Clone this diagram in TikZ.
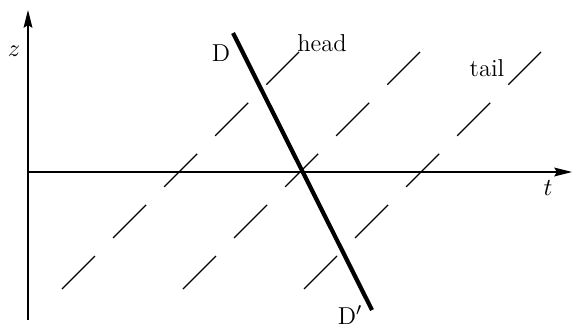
\documentclass[tikz,border=0pt]{standalone}
\usetikzlibrary{arrows.meta}
\begin{document}
\begin{tikzpicture}[x=0.45pt, y=0.45pt, font=\fontsize{11}{13}\selectfont,
    eje/.style={line width=0.6pt, -{Stealth[length=8pt, width=4pt, inset=1.2pt]}},
    frente/.style={line width=1.9pt},
    linea/.style={line width=0.6pt, dash pattern=on 21pt off 11.5pt}]

    \useasboundingbox (0,0) rectangle (573,327);

    % ejes
    \coordinate (O) at (28,155);
    \coordinate (zbot) at (28,7);
    \coordinate (ztop) at (28,317);
    \coordinate (tend) at (572,155);
    \draw[eje] (zbot) -- (ztop);
    \draw[eje] (O) -- (tend);
    \node (zlab) at (14,276) {$z$};
    \node (tlab) at (548,139) {$t$};

    % lineas discontinuas
    \foreach \k in {0,1,2} {
        \coordinate (ini\k) at (62+121*\k,38);
        \coordinate (fin\k) at (299+121*\k,275);
        \draw[linea] (ini\k) -- (fin\k);
    }

    % recta D
    \coordinate (Dtop) at (233,294);
    \coordinate (Dbot) at (372,17);
    \draw[frente] (Dtop) -- (Dbot);
    \node (Dlab) at (221,274) {D};
    \node (Dplab) at (350,12) {D$'$};
    \node (headlab) at (322,284) {head};
    \node (taillab) at (487,259) {tail};
\end{tikzpicture}
\end{document}
